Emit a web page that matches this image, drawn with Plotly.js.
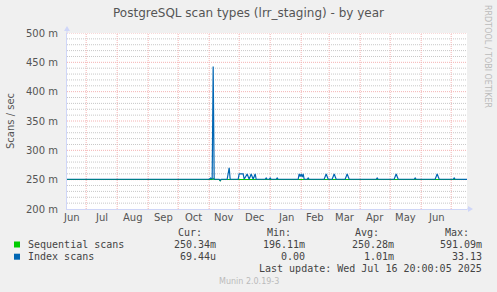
<!DOCTYPE html>
<html>
<head>
<meta charset="utf-8">
<script src="https://cdn.plot.ly/plotly-3.0.1.min.js"></script>
<style>html,body{margin:0;padding:0;background:#F0F0F0;}#chart{width:497px;height:292px;}</style>
</head>
<body>
<div id="chart"></div>
<script>
// ---- data (per second) ----
const dates = [
  "2024-06-11 20:00", "2024-11-01", "2024-11-02 12:00", "2024-11-03 12:00", "2024-11-04",
  "2024-11-05", "2024-11-06", "2024-11-11", "2024-11-12", "2024-11-13",
  "2024-11-19", "2024-11-21", "2024-11-22", "2024-11-30", "2024-12-01",
  "2024-12-05", "2024-12-06", "2024-12-09", "2024-12-11", "2024-12-13",
  "2024-12-15", "2024-12-17", "2024-12-18", "2024-12-27", "2024-12-28",
  "2024-12-29", "2024-12-31", "2025-01-01", "2025-01-02", "2025-01-07",
  "2025-01-08", "2025-01-09", "2025-01-29", "2025-01-30", "2025-01-31",
  "2025-02-01", "2025-02-02", "2025-02-03", "2025-02-04", "2025-02-07",
  "2025-02-08", "2025-02-09", "2025-02-24", "2025-02-26", "2025-02-28",
  "2025-03-04", "2025-03-06", "2025-03-08", "2025-03-17", "2025-03-19",
  "2025-03-21", "2025-04-17", "2025-04-18", "2025-04-19", "2025-05-05",
  "2025-05-07", "2025-05-09", "2025-05-25", "2025-05-26", "2025-05-27",
  "2025-06-15", "2025-06-17", "2025-06-19", "2025-07-03", "2025-07-04",
  "2025-07-05", "2025-07-16 20:00"
];
const seqScans = [
  0.2503, 0.2503, 0.2503, 0.2503, 0.2503,
  0.2520, 0.2503, 0.2503, 0.2480, 0.2503,
  0.2503, 0.2503, 0.2503, 0.2503, 0.2503,
  0.2503, 0.2503, 0.2503, 0.2503, 0.2503,
  0.2503, 0.2503, 0.2503, 0.2503, 0.2503,
  0.2503, 0.2503, 0.2503, 0.2503, 0.2503,
  0.2503, 0.2503, 0.2503, 0.2503, 0.2503,
  0.2503, 0.2503, 0.2503, 0.2503, 0.2503,
  0.2503, 0.2503, 0.2503, 0.2503, 0.2503,
  0.2503, 0.2503, 0.2503, 0.2503, 0.2503,
  0.2503, 0.2503, 0.2503, 0.2503, 0.2503,
  0.2503, 0.2503, 0.2503, 0.2503, 0.2503,
  0.2503, 0.2503, 0.2503, 0.2503, 0.2503,
  0.2503, 0.2503
];
const idxScans = [
  0.0004, 0.0004, 0.0025, 0.0004, 0.0004,
  0.1910, 0.0004, 0.0004, 0.0004, 0.0004,
  0.0004, 0.0200, 0.0004, 0.0004, 0.0095,
  0.0095, 0.0004, 0.0095, 0.0004, 0.0095,
  0.0004, 0.0095, 0.0004, 0.0004, 0.0025,
  0.0004, 0.0004, 0.0025, 0.0004, 0.0004,
  0.0025, 0.0004, 0.0004, 0.0095, 0.0050,
  0.0095, 0.0040, 0.0095, 0.0004, 0.0004,
  0.0025, 0.0004, 0.0004, 0.0095, 0.0004,
  0.0004, 0.0095, 0.0004, 0.0004, 0.0095,
  0.0004, 0.0004, 0.0025, 0.0004, 0.0004,
  0.0095, 0.0004, 0.0004, 0.0025, 0.0004,
  0.0004, 0.0095, 0.0004, 0.0004, 0.0025,
  0.0004, 0.0001
];
const seriesNames = ["Sequential scans", "Index scans"];
const seriesColors = ["#00CC00", "#0066B3"];
const monthStarts = [
  "2024-07-01", "2024-08-01", "2024-09-01", "2024-10-01", "2024-11-01", "2024-12-01",
  "2025-01-01", "2025-02-01", "2025-03-01", "2025-04-01", "2025-05-01", "2025-06-01", "2025-07-01"
];
const monthMids = [
  "2024-06-16", "2024-07-16 12:00", "2024-08-16 12:00", "2024-09-16", "2024-10-16 12:00",
  "2024-11-16", "2024-12-16 12:00", "2025-01-16 12:00", "2025-02-15", "2025-03-16 12:00",
  "2025-04-16", "2025-05-16 12:00", "2025-06-16"
];
const monthLabels = ["Jun","Jul","Aug","Sep","Oct","Nov","Dec","Jan","Feb","Mar","Apr","May","Jun"];
const yTickVals = [0.2, 0.25, 0.3, 0.35, 0.4, 0.45, 0.5];
const yTickText = ["200 m","250 m","300 m","350 m","400 m","450 m","500 m"];
const yMinorStep = 0.01;
const statHeaders = ["Cur:", "Min:", "Avg:", "Max:"];
const seqStats = ["250.34m", "196.11m", "250.28m", "591.09m"];
const idxStats = ["69.44u", "0.00", "1.01m", "33.13"];
const xRange = ["2024-06-11 20:00", "2025-07-16 20:00"];
const yRange = [0.2, 0.5];

// ---- layout helpers (pixel -> paper) ----
const L = 67, R = 467, T = 33, B = 209;
const px = v => (v - L) / (R - L);
const py = v => (B - v) / (B - T);

const traces = [
  {x: dates, y: seqScans, name: seriesNames[0], type: "scatter", mode: "lines",
   stackgroup: "s", fill: "none", line: {color: seriesColors[0], width: 1.2}},
  {x: dates, y: idxScans, name: seriesNames[1], type: "scatter", mode: "lines",
   stackgroup: "s", fill: "none", line: {color: seriesColors[1], width: 1.2}}
];

const mono = "DejaVu Sans Mono";
const txt = "#444";
const ann = [];
function A(text, x, y, opts) {
  ann.push(Object.assign({text: text, x: px(x), y: py(y), xref: "paper", yref: "paper",
    showarrow: false, xanchor: "left", yanchor: "middle", borderpad: 0,
    font: {family: mono, size: 10, color: txt}}, opts || {}));
}
// month labels, placed through the date axis
monthMids.forEach((d, i) => ann.push({text: monthLabels[i], x: d, xref: "x", y: py(217), yref: "paper",
  showarrow: false, xanchor: "center", yanchor: "middle", borderpad: 0,
  font: {family: "DejaVu Sans", size: 10, color: "#555"}}));
A("Scans / sec", 10, 121, {xanchor: "center", textangle: -90, font: {family: "DejaVu Sans", size: 10, color: "#555"}});
A("RRDTOOL / TOBI OETIKER", 488, 56, {xanchor: "center", textangle: 90, font: {family: "DejaVu Sans", size: 8, color: "#BBBBBB"}});
const colRight = [203, 292, 380, 470];
const valRight = [217, 306, 395, 483];
statHeaders.forEach((h, i) => A(h, colRight[i], 233, {xanchor: "right"}));
A(seriesNames[0], 26.5, 244.5);
A(seriesNames[1], 26.5, 256.7);
seqStats.forEach((v, i) => A(v, valRight[i], 244.5, {xanchor: "right"}));
idxStats.forEach((v, i) => A(v, valRight[i], 256.7, {xanchor: "right"}));
A("Last update: Wed Jul 16 20:00:05 2025", 483, 268.7, {xanchor: "right"});
A("Munin 2.0.19-3", 249, 281, {xanchor: "center", font: {family: "DejaVu Sans", size: 8, color: "#BBBBBB"}});

const axisCol = "#CFD6F8";
const majorCol = "#F4B2B2";
const shapes = [];
// minor (grey) horizontal grid lines every 10 m, skipping the 50 m majors
for (let k = 1; k < Math.round((yRange[1] - yRange[0]) / yMinorStep); k++) {
  if (k % 5 === 0) continue;
  const v = yRange[0] + k * yMinorStep;
  shapes.push({type: "line", xref: "paper", x0: 0, x1: 1, yref: "y", y0: v, y1: v, layer: "below",
    line: {color: "#C8C8C8", width: 1, dash: "1px,1px"}});
}
// major (red) grid lines
yTickVals.slice(1).forEach(v => shapes.push({type: "line", xref: "paper", x0: 0, x1: 1, yref: "y", y0: v, y1: v,
  layer: "below", line: {color: majorCol, width: 1, dash: "1px,1px"}}));
monthStarts.forEach(d => shapes.push({type: "line", xref: "x", x0: d, x1: d, yref: "paper", y0: 0, y1: 1,
  layer: "below", line: {color: majorCol, width: 1, dash: "1px,1px"}}));
shapes.push(
  // y axis extension + arrow
  {type: "line", xref: "paper", yref: "paper", x0: 0, x1: 0, ysizemode: "pixel", yanchor: 1, y0: 0, y1: 3,
   line: {color: axisCol, width: 1}},
  {type: "path", xref: "paper", yref: "paper", xsizemode: "pixel", ysizemode: "pixel", xanchor: 0, yanchor: 1,
   path: "M -3 2 L 3 2 L 0 7 Z", fillcolor: axisCol, line: {width: 0}},
  // x axis extension + arrow
  {type: "line", xref: "paper", yref: "paper", y0: 0, y1: 0, xsizemode: "pixel", xanchor: 1, x0: 0, x1: 2,
   line: {color: axisCol, width: 1}},
  {type: "path", xref: "paper", yref: "paper", xsizemode: "pixel", ysizemode: "pixel", xanchor: 1, yanchor: 0,
   path: "M 1 -3 L 1 3 L 6 0 Z", fillcolor: axisCol, line: {width: 0}},
  // legend swatches
  {type: "rect", xref: "paper", yref: "paper", x0: px(14), x1: px(20), y0: py(241.5), y1: py(247.5),
   fillcolor: seriesColors[0], line: {width: 0}},
  {type: "rect", xref: "paper", yref: "paper", x0: px(14), x1: px(20), y0: py(253.7), y1: py(259.7),
   fillcolor: seriesColors[1], line: {width: 0}}
);

const layout = {
  width: 497, height: 292,
  margin: {l: L, r: 497 - R, t: T, b: 292 - B, pad: 0},
  paper_bgcolor: "#F0F0F0", plot_bgcolor: "#FFFFFF",
  font: {family: "DejaVu Sans", size: 10, color: "#555"},
  showlegend: false,
  title: {text: "PostgreSQL scan types (lrr_staging) - by year",
          font: {family: "DejaVu Sans", size: 12, color: "#555"},
          x: 0.5, xanchor: "center", yref: "container", y: 1 - 13 / 292, yanchor: "middle"},
  xaxis: {type: "date", range: xRange, tickmode: "array", tickvals: monthStarts,
          showticklabels: false, showgrid: false,
          ticks: "", showline: true, linecolor: axisCol, linewidth: 1, zeroline: false, fixedrange: true},
  yaxis: {range: yRange, tickmode: "array", tickvals: yTickVals, ticktext: yTickText,
          showgrid: false,
          showline: true, linecolor: axisCol, linewidth: 1, zeroline: false, ticks: "",
          ticklabelstandoff: 6, fixedrange: true,
          tickfont: {family: "DejaVu Sans", size: 10, color: "#555"}},
  annotations: ann,
  shapes: shapes
};

Plotly.newPlot("chart", traces, layout, {displayModeBar: false, staticPlot: true});
</script>
</body>
</html>
